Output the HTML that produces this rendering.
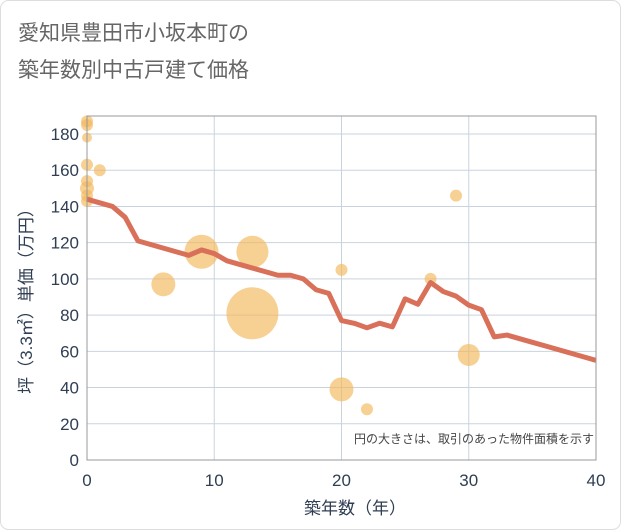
<!DOCTYPE html>
<html><head><meta charset="utf-8"><style>
body{margin:0;background:#fff;}
svg{display:block;font-family:"Liberation Sans","Noto Sans CJK JP",sans-serif;}
</style></head><body>
<svg width="621" height="530" viewBox="0 0 621 530">
<rect x="0.5" y="0.5" width="620" height="529" rx="8" fill="#fff" stroke="#ddd"/>
<text x="18" y="40" font-size="21" fill="#666">愛知県豊田市小坂本町の</text>
<text x="18" y="77" font-size="21" fill="#666">築年数別中古戸建て価格</text>
<g id="grid"></g>
<g id="bubbles"></g>
<g id="line"></g>
<g id="axes"></g>
<text x="594" y="443" font-size="12" fill="#444" text-anchor="end">円の大きさは、取引のあった物件面積を示す</text>
<text x="355" y="514" font-size="17" fill="#2f3e52" text-anchor="middle">築年数（年）</text>
<text transform="translate(32,297) rotate(-90)" font-size="17" fill="#2f3e52" text-anchor="middle">坪（3.3㎡）単価（万円）</text>
</svg>
<script>
const xTicks=[0,10,20,30,40];
const yTicks=[0,20,40,60,80,100,120,140,160,180];
const lineYears=[0,1,2,3,4,5,6,7,8,9,10,11,12,13,14,15,16,17,18,19,20,21,22,23,24,25,26,27,28,29,30,31,32,33,34,35,36,37,38,39,40];
const lineValues=[144,142,140,134,121,119,117,115,113,116,114,110,108,106,104,102,102,100,94,92,77,75.5,73,75.5,73.5,89,86,98,93,90.5,85.5,83,68,69,67,65,63,61,59,57,55];
const bubbleYears=[0,0,0,0,0,0,0,0,1,6,9,13,13,20,20,22,27,29,30];
const bubbleValues=[187,185,178,163,154,150,146,143,160,97,115,115,81,105,39,28,100,146,58];
const bubbleSizes=[6,6,5,6,6,7,6,6,6,12,17,16,26,6,12,6,6,6,11];
const NS="http://www.w3.org/2000/svg";
const X0=87,X1=596,Y0=460,YTOP=116;
const xs=v=>X0+(X1-X0)*v/40;
const ys=v=>Y0-v*1.811;
function mk(t,a,p){const e=document.createElementNS(NS,t);for(const k in a)e.setAttribute(k,a[k]);p.appendChild(e);return e;}
const grid=document.getElementById('grid'),axes=document.getElementById('axes');
yTicks.forEach(v=>{
 const l=mk('line',{x1:X0,x2:X1,y1:ys(v),y2:ys(v),stroke:'#c9d3de','stroke-width':1},grid);
 
 
 const t=mk('text',{x:79,y:ys(v)+6,'font-size':17,fill:'#2f3e52','text-anchor':'end'},axes);
 t.textContent=v;
 
 
});
xTicks.forEach(v=>{
 const l=mk('line',{x1:xs(v),x2:xs(v),y1:YTOP,y2:Y0,stroke:'#c9d3de','stroke-width':1},grid);
 
 
 const t=mk('text',{x:xs(v),y:486,'font-size':17,fill:'#2f3e52','text-anchor':'middle'},axes);
 t.textContent=v;
 
 
});
const border=mk('rect',{x:X0,y:YTOP,width:X1-X0,height:Y0-YTOP,fill:'none',stroke:'#999','stroke-width':1},axes);


const bg=document.getElementById('bubbles');
bubbleYears.forEach((yr,i)=>{
 const c=mk('circle',{cx:xs(yr),cy:ys(bubbleValues[i]),r:bubbleSizes[i],fill:'#f2b75a','fill-opacity':0.65},bg);
 
 
});
const pts=lineYears.map((yr,i)=>xs(yr)+','+ys(lineValues[i])).join(' ');
const pl=mk('polyline',{points:pts,fill:'none',stroke:'#d9705a','stroke-width':5,'stroke-linejoin':'round'},document.getElementById('line'));


</script>
</body></html>
